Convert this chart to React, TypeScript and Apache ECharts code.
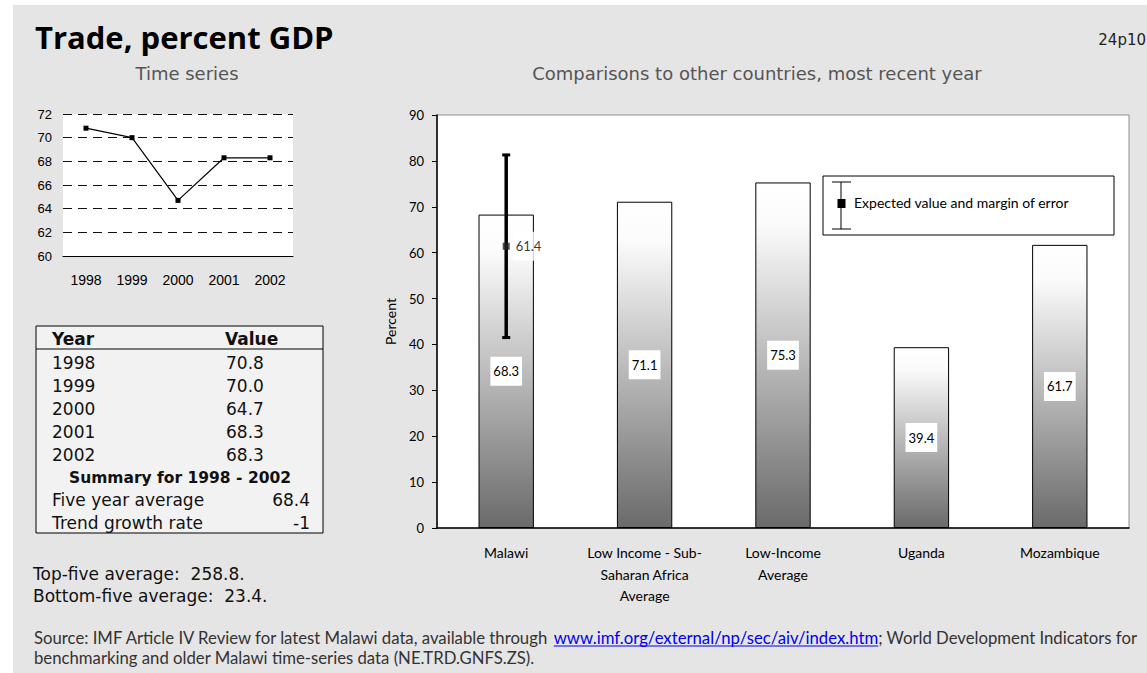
import React, { useEffect, useRef } from "react";
import * as echarts from "echarts";

// Time series: trade as percent of GDP
const years = ["1998", "1999", "2000", "2001", "2002"];
const tradeSeries = [70.8, 70.0, 64.7, 68.3, 68.3];
const seriesTicks = { min: 60, max: 72, step: 2 };

// Cross-country comparison, most recent year
const countries = [
  "Malawi",
  "Low Income - Sub-\nSaharan Africa\nAverage",
  "Low-Income\nAverage",
  "Uganda",
  "Mozambique",
];
const countryValues = [68.3, 71.1, 75.3, 39.4, 61.7];
const comparisonTicks = { min: 0, max: 90, step: 10 };

// Expected value and margin of error for Malawi
const expectedValue = [61.4];
const errorLow = [41.5];
const errorHigh = [81.3];

// Summary rows
const summaryLabels = ["Five year average", "Trend growth rate"];
const summaryValues = ["68.4", "-1"];
const topFiveAverage = "258.8";
const bottomFiveAverage = "23.4";

// Source note pieces
const sourceLead = "Source: IMF Article IV Review for latest Malawi data, available through ";
const sourceLink = "www.imf.org/external/np/sec/aiv/index.htm";
const sourceTail = "; World Development Indicators for";
const sourceLine2 = "benchmarking and older Malawi time-series data (NE.TRD.GNFS.ZS).";

const PAGE_BG = "#e5e5e5";
const TABLE_FONT = "DejaVu Sans";
const CHART_FONT = "Lato";

function measure(text: string, font: string): number {
  const ctx = document.createElement("canvas").getContext("2d");
  if (!ctx) return text.length * 7;
  ctx.font = font;
  return ctx.measureText(text).width;
}

function txt(x: number, y: number, text: string, style: Record<string, any> = {}) {
  return {
    type: "text",
    x,
    y,
    z: 20,
    style: {
      text,
      fill: "#111",
      fontFamily: TABLE_FONT,
      fontSize: 17,
      align: "left",
      verticalAlign: "middle",
      ...style,
    },
  };
}

function hline(x1: number, x2: number, y: number, stroke = "#000", lineWidth = 1) {
  return {
    type: "line",
    z: 20,
    shape: { x1, y1: y, x2, y2: y },
    style: { stroke, lineWidth },
  };
}

function buildGraphics() {
  const g: any[] = [];
  // page panel
  g.push({
    type: "rect",
    z: -10,
    shape: { x: 13, y: 5, width: 1134, height: 668 },
    style: { fill: PAGE_BG },
  });

  // headings
  g.push(
    txt(35, 37, "Trade, percent GDP", {
      fontFamily: "Open Sans",
      fontWeight: "bold",
      fontSize: 31,
      fill: "#000",
    })
  );
  g.push(txt(1146, 40, "24p10", { align: "right", fontSize: 15, fill: "#222" }));
  g.push(txt(187, 73, "Time series", { align: "center", fontSize: 18, fill: "#555" }));
  g.push(
    txt(757, 73, "Comparisons to other countries, most recent year", {
      align: "center",
      fontSize: 18,
      fill: "#555",
    })
  );

  // data table
  g.push({
    type: "rect",
    z: 15,
    shape: { x: 36, y: 326, width: 287, height: 207 },
    style: { fill: "#f2f2f2", stroke: "#000", lineWidth: 1 },
  });
  g.push(hline(36, 323, 349));
  g.push(txt(52, 339, "Year", { fontWeight: "bold" }));
  g.push(txt(225, 339, "Value", { fontWeight: "bold" }));
  years.forEach((yr, i) => {
    const y = 363 + i * 23;
    g.push(txt(52, y, yr));
    g.push(txt(226, y, tradeSeries[i].toFixed(1)));
  });
  g.push(
    txt(180, 478, `Summary for ${years[0]} - ${years[years.length - 1]}`, {
      align: "center",
      fontWeight: "bold",
      fontSize: 15.5,
    })
  );
  summaryLabels.forEach((label, i) => {
    const y = 500 + i * 22.5;
    g.push(txt(52, y, label));
    g.push(txt(310, y, summaryValues[i], { align: "right" }));
  });

  g.push(txt(33, 574, `Top-five average:  ${topFiveAverage}.`));
  g.push(txt(33, 596, `Bottom-five average:  ${bottomFiveAverage}.`));

  // legend for the error bar
  g.push({
    type: "rect",
    z: 15,
    shape: { x: 823, y: 176, width: 291, height: 59 },
    style: { fill: "#fff", stroke: "#000", lineWidth: 1 },
  });
  g.push({
    type: "line",
    z: 20,
    shape: { x1: 841, y1: 182, x2: 841, y2: 229 },
    style: { stroke: "#000", lineWidth: 1 },
  });
  g.push(hline(832, 851, 182));
  g.push(hline(832, 851, 229));
  g.push({
    type: "rect",
    z: 21,
    shape: { x: 837.5, y: 199, width: 8, height: 9 },
    style: { fill: "#000" },
  });
  g.push(
    txt(854, 202, "Expected value and margin of error", {
      fontFamily: CHART_FONT,
      fontSize: 14,
      fill: "#000",
    })
  );

  // source note: size the font so the first line spans the panel
  const baseSize = 15;
  const baseFont = `${baseSize}px ${CHART_FONT}`;
  const fullWidth = measure(sourceLead + sourceLink + sourceTail, baseFont);
  const srcSize = Math.min(18, Math.max(13, (baseSize * 1104) / fullWidth));
  const srcFont = `${srcSize}px ${CHART_FONT}`;
  const leadW = measure(sourceLead, srcFont);
  const linkW = measure(sourceLink, srcFont);
  const src = { fontFamily: CHART_FONT, fontSize: srcSize, fill: "#333" };
  const x0 = 34;
  g.push(txt(x0, 637, sourceLead, src));
  g.push(txt(x0 + leadW, 637, sourceLink, { ...src, fill: "#0000ee" }));
  g.push(hline(x0 + leadW, x0 + leadW + linkW, 646, "#0000ee", 1));
  g.push(txt(x0 + leadW + linkW, 637, sourceTail, src));
  g.push(txt(x0, 657, sourceLine2, src));
  return g;
}

export default function App() {
  const ref = useRef<HTMLDivElement>(null);

  useEffect(() => {
    document.body.style.margin = "0";
    if (!ref.current) return;
    const chart = echarts.init(ref.current, undefined, { renderer: "svg" });

    const barGradient = new echarts.graphic.LinearGradient(0, 0, 0, 1, [
      { offset: 0, color: "#ffffff" },
      { offset: 0.12, color: "#fbfbfb" },
      { offset: 1, color: "#6a6a6a" },
    ]);

    const option: any = {
      animation: false,
      backgroundColor: "#ffffff",
      textStyle: { fontFamily: CHART_FONT },
      grid: [
        {
          left: 63,
          top: 114,
          width: 230,
          height: 142,
          show: true,
          backgroundColor: "#fff",
          borderWidth: 0,
        },
        {
          left: 437,
          top: 115,
          width: 692,
          height: 413,
          show: true,
          backgroundColor: "#fff",
          borderColor: "#8c8c8c",
          borderWidth: 1,
        },
      ],
      xAxis: [
        {
          gridIndex: 0,
          type: "category",
          data: years,
          axisLine: { lineStyle: { color: "#000", width: 1 } },
          axisTick: { length: 5, lineStyle: { color: "#000" } },
          axisLabel: {
            fontFamily: "Liberation Sans",
            fontSize: 14,
            color: "#000",
            margin: 17,
          },
        },
        {
          gridIndex: 1,
          type: "category",
          data: countries,
          axisLine: { lineStyle: { color: "#000", width: 1.5 } },
          axisTick: { length: 6, lineStyle: { color: "#000" } },
          axisLabel: {
            fontFamily: CHART_FONT,
            fontSize: 14,
            lineHeight: 21.5,
            color: "#000",
            margin: 14,
            interval: 0,
          },
        },
      ],
      yAxis: [
        {
          gridIndex: 0,
          type: "value",
          min: seriesTicks.min,
          max: seriesTicks.max,
          interval: seriesTicks.step,
          axisLine: { show: false },
          axisTick: { show: false },
          splitLine: { lineStyle: { color: "#111", type: [9, 6], width: 1 } },
          axisLabel: {
            fontFamily: "Liberation Sans",
            fontSize: 13,
            color: "#000",
            margin: 11,
          },
        },
        {
          gridIndex: 1,
          type: "value",
          min: comparisonTicks.min,
          max: comparisonTicks.max,
          interval: comparisonTicks.step,
          axisLine: { show: true, lineStyle: { color: "#000", width: 1.5 } },
          axisTick: { show: true, length: 5, lineStyle: { color: "#000" } },
          splitLine: { show: false },
          axisLabel: { fontFamily: CHART_FONT, fontSize: 13, color: "#000", margin: 13 },
          name: "Percent",
          nameLocation: "middle",
          nameGap: 40,
          nameTextStyle: { fontFamily: CHART_FONT, fontSize: 14, color: "#000" },
        },
      ],
      series: [
        {
          type: "line",
          xAxisIndex: 0,
          yAxisIndex: 0,
          data: tradeSeries,
          symbol: "rect",
          symbolSize: 5,
          lineStyle: { color: "#000", width: 1.2 },
          itemStyle: { color: "#000" },
          z: 5,
        },
        {
          type: "bar",
          xAxisIndex: 1,
          yAxisIndex: 1,
          data: countryValues,
          barWidth: "40%",
          itemStyle: { color: barGradient, borderColor: "#000", borderWidth: 1 },
          label: {
            show: true,
            position: "inside",
            formatter: (p: any) => Number(p.value).toFixed(1),
            backgroundColor: "#fff",
            padding: [8, 3],
            color: "#000",
            fontFamily: CHART_FONT,
            fontSize: 13,
          },
          z: 3,
        },
        {
          type: "custom",
          xAxisIndex: 1,
          yAxisIndex: 1,
          data: errorLow.map((lo, i) => [i, lo, errorHigh[i]]),
          z: 6,
          renderItem: (_params: any, api: any) => {
            const idx = api.value(0);
            const lo = api.coord([idx, api.value(1)]);
            const hi = api.coord([idx, api.value(2)]);
            const cap = 4;
            const stroke = { stroke: "#000", lineWidth: 3 };
            return {
              type: "group",
              children: [
                { type: "line", shape: { x1: lo[0], y1: lo[1], x2: hi[0], y2: hi[1] }, style: { stroke: "#000", lineWidth: 3.5 } },
                { type: "line", shape: { x1: hi[0] - cap, y1: hi[1], x2: hi[0] + cap, y2: hi[1] }, style: stroke },
                { type: "line", shape: { x1: lo[0] - cap, y1: lo[1], x2: lo[0] + cap, y2: lo[1] }, style: stroke },
              ],
            };
          },
        },
        {
          type: "scatter",
          xAxisIndex: 1,
          yAxisIndex: 1,
          data: expectedValue.map((v, i) => [i, v]),
          symbol: "rect",
          symbolSize: 7,
          itemStyle: { color: "#222" },
          z: 8,
          label: {
            show: true,
            position: "right",
            distance: 3,
            formatter: (p: any) => Number(p.value[1]).toFixed(1),
            backgroundColor: "#fff",
            padding: [8, 3],
            color: "#000",
            fontFamily: CHART_FONT,
            fontSize: 13,
          },
        },
      ],
      graphic: buildGraphics(),
    };

    chart.setOption(option);
    return () => chart.dispose();
  }, []);

  return <div ref={ref} style={{ width: 1147, height: 673 }} />;
}
